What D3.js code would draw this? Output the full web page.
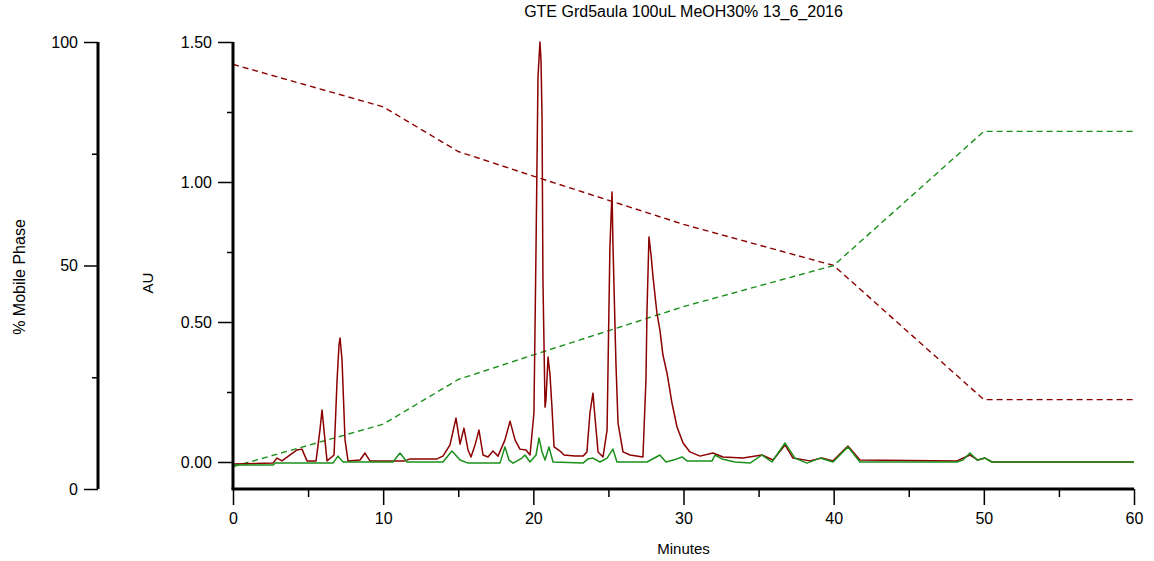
<!DOCTYPE html>
<html>
<head>
<meta charset="utf-8">
<script src="https://cdn.jsdelivr.net/npm/d3@7"></script>
<style>
body { margin: 0; background: #fff; }
svg text { font-family: "Liberation Sans", Arial, sans-serif; fill: #000; }
</style>
</head>
<body>
<svg id="chart" width="1154" height="561"></svg>
<script>
const chart_title = "GTE Grd5aula 100uL MeOH30% 13_6_2016";

// gradient program, % of each solvent
const gradient_time = [0, 10, 12.5, 15, 20, 30, 40, 50, 60];
const solvent_a = [95, 85.5, 80.5, 75.5, 70, 59.2, 50, 20, 20];
const solvent_b = [5, 14.5, 19.5, 24.5, 30, 40.8, 50, 80, 80];

// tick values
const minute_ticks = [0, 5, 10, 15, 20, 25, 30, 35, 40, 45, 50, 55, 60];
const minute_labels = [0, 10, 20, 30, 40, 50, 60];
const au_ticks = [0, 0.25, 0.5, 0.75, 1, 1.25, 1.5];
const au_labels = [0, 0.5, 1, 1.5];
const pct_ticks = [0, 25, 50, 75, 100];
const pct_labels = [0, 50, 100];

// detector traces [minutes, AU]
const trace_red = [
	[0, -0.007], [2.66, -0.004], [2.93, 0.014], [3.26, 0.004], [4.26, 0.043], [4.59, 0.046],
	[4.93, 0.004], [5.53, 0.004], [5.79, 0.114], [5.93, 0.186], [6.06, 0.114], [6.26, 0.004],
	[6.73, 0.025], [6.93, 0.293], [7.06, 0.418], [7.13, 0.443], [7.26, 0.364], [7.46, 0.079],
	[7.66, 0.004], [8.46, 0.007], [8.79, 0.032], [9.12, 0.004], [11.45, 0.004], [11.79, 0.011],
	[13.58, 0.011], [13.98, 0.021], [14.45, 0.061], [14.85, 0.157], [15.12, 0.064], [15.38, 0.121],
	[15.65, 0.043], [15.85, 0.018], [16.12, 0.061], [16.38, 0.114], [16.65, 0.025], [16.98, 0.018],
	[17.31, 0.039], [17.65, 0.021], [18.11, 0.079], [18.45, 0.146], [18.78, 0.079], [19.11, 0.046],
	[19.51, 0.043], [19.78, 0.025], [20.04, 0.175], [20.18, 0.768], [20.31, 1.375], [20.44, 1.5],
	[20.51, 1.436], [20.58, 1.232], [20.64, 0.65], [20.78, 0.196], [20.84, 0.221], [20.98, 0.375],
	[21.11, 0.311], [21.24, 0.196], [21.38, 0.054], [21.78, 0.039], [22.04, 0.025], [22.77, 0.021],
	[23.31, 0.021], [23.57, 0.036], [23.77, 0.175], [23.97, 0.246], [24.11, 0.157], [24.31, 0.036],
	[24.64, 0.018], [24.91, 0.114], [25.1, 0.768], [25.24, 0.964], [25.3, 0.782], [25.5, 0.354],
	[25.64, 0.139], [25.97, 0.036], [26.44, 0.025], [27.3, 0.018], [27.5, 0.293], [27.57, 0.543],
	[27.7, 0.804], [27.84, 0.739], [27.97, 0.661], [28.23, 0.532], [28.43, 0.471], [28.63, 0.382],
	[28.9, 0.318], [29.23, 0.211], [29.57, 0.125], [29.97, 0.068], [30.43, 0.036], [31.1, 0.021],
	[31.96, 0.032], [32.63, 0.018], [33.96, 0.014], [35.23, 0.025], [35.96, 0.007], [36.76, 0.061],
	[37.29, 0.014], [38.42, 0.004], [39.22, 0.014], [39.96, 0.004], [40.95, 0.057], [41.75, 0.007],
	[48.21, 0.004], [49.08, 0.025], [49.61, 0.007], [50.08, 0.014], [50.54, 0], [60, 0]
];

const trace_green = [
	[0, -0.011], [2.66, -0.011], [2.8, -0.004], [6.66, -0.004], [6.99, 0.021], [7.33, 0],
	[10.65, 0], [11.12, 0.032], [11.59, 0], [13.98, 0], [14.58, 0.039], [15.12, 0.007],
	[15.65, -0.004], [17.78, -0.004], [18.11, 0.054], [18.38, 0.007], [18.65, -0.004], [19.24, 0.014],
	[19.44, 0.025], [19.78, 0], [20.18, 0.025], [20.38, 0.086], [20.58, 0.036], [20.78, 0.007],
	[21.04, 0.054], [21.31, 0], [23.31, -0.004], [23.64, 0.011], [23.97, 0.014], [24.44, 0],
	[24.91, 0.014], [25.3, 0.046], [25.57, 0], [27.57, 0], [28.43, 0.025], [28.83, 0],
	[29.57, 0.011], [29.9, 0.018], [30.23, 0.004], [31.9, 0.004], [32.1, 0.025], [32.56, 0.011],
	[33.43, 0], [34.43, -0.004], [35.23, 0.025], [35.89, 0], [36.76, 0.068], [37.42, 0.014],
	[38.22, -0.004], [39.09, 0.014], [39.96, 0], [40.42, 0.025], [40.95, 0.054], [41.75, 0],
	[48.21, 0], [48.61, 0.007], [49.08, 0.032], [49.54, 0.007], [50.08, 0.014], [50.54, 0], [60, 0]
];

const red = "#8b0000";
const green = "#1a901a";

function drawChart(){
	const svg = d3.select("#chart");

	const x = d3.scaleLinear().domain([0, 60]).range([233, 1134]);
	const y_au = d3.scaleLinear().domain([0, 1.5]).range([462, 42]);
	const y_pct = d3.scaleLinear().domain([0, 100]).range([489, 42]);
	const floor_y = y_pct(0);

	// gradient lines
	let grad_line = d3.line()
		.x(function(d, i) { return x(gradient_time[i]); })
		.y(function(d) { return y_pct(d); });

	svg.append("path")
		.attr("d", grad_line(solvent_a))
		.attr("fill", "none")
		.attr("stroke", red)
		.attr("stroke-width", 1.4)
		.attr("stroke-dasharray", "6,4");

	svg.append("path")
		.attr("d", grad_line(solvent_b))
		.attr("fill", "none")
		.attr("stroke", green)
		.attr("stroke-width", 1.4)
		.attr("stroke-dasharray", "6,4");

	// traces
	let trace_line = d3.line()
		.x(function(d) { return x(d[0]); })
		.y(function(d) { return y_au(d[1]); });

	svg.append("path")
		.attr("d", trace_line(trace_red))
		.attr("fill", "none")
		.attr("stroke", red)
		.attr("stroke-width", 1.5)
		.attr("stroke-linejoin", "round");

	svg.append("path")
		.attr("d", trace_line(trace_green))
		.attr("fill", "none")
		.attr("stroke", green)
		.attr("stroke-width", 1.5)
		.attr("stroke-linejoin", "round");

	// % mobile phase axis
	let pct_axis = svg.append("g")
		.attr("transform", "translate(98,0)")
		.call(d3.axisLeft(y_pct)
			.tickValues(pct_ticks)
			.tickSize(14)
			.tickPadding(6)
			.tickFormat(function(d) { return pct_labels.includes(d) ? d : ""; }));
	styleAxis(pct_axis, pct_labels, "x2", -6);

	// AU axis
	let au_axis = svg.append("g")
		.attr("transform", "translate(233,0)")
		.call(d3.axisLeft(y_au)
			.tickValues(au_ticks)
			.tickSize(15)
			.tickPadding(6)
			.tickFormat(function(d) { return au_labels.includes(d) ? d3.format(".2f")(d) : ""; }));
	styleAxis(au_axis, au_labels, "x2", -6);

	// minutes axis
	let x_axis = svg.append("g")
		.attr("transform", "translate(0," + floor_y + ")")
		.call(d3.axisBottom(x)
			.tickValues(minute_ticks)
			.tickSize(16)
			.tickPadding(8)
			.tickFormat(function(d) { return minute_labels.includes(d) ? d : ""; }));
	styleAxis(x_axis, minute_labels, "y2", 8);

	// heavy axis lines
	svg.append("line")
		.attr("x1", 98).attr("x2", 98)
		.attr("y1", y_pct(100)).attr("y2", floor_y)
		.attr("stroke", "#000").attr("stroke-width", 3);
	svg.append("line")
		.attr("x1", x(0)).attr("x2", x(0))
		.attr("y1", y_au(1.5)).attr("y2", floor_y)
		.attr("stroke", "#000").attr("stroke-width", 3);
	svg.append("line")
		.attr("x1", x(0) - 1.5).attr("x2", x(60))
		.attr("y1", floor_y).attr("y2", floor_y)
		.attr("stroke", "#000").attr("stroke-width", 3);

	// titles
	svg.append("text")
		.attr("x", (x(0) + x(60)) / 2)
		.attr("y", 17)
		.attr("text-anchor", "middle")
		.attr("font-size", 16)
		.text(chart_title);

	svg.append("text")
		.attr("x", (x(0) + x(60)) / 2)
		.attr("y", 554)
		.attr("text-anchor", "middle")
		.attr("font-size", 15)
		.text("Minutes");

	svg.append("text")
		.attr("transform", "translate(25,277) rotate(-90)")
		.attr("text-anchor", "middle")
		.attr("font-size", 16)
		.text("% Mobile Phase");

	svg.append("text")
		.attr("transform", "translate(153,283) rotate(-90)")
		.attr("text-anchor", "middle")
		.attr("font-size", 15)
		.text("AU");
}

function styleAxis(g, labelled, attr, minor_len){
	g.select(".domain").remove();
	g.attr("font-family", null).attr("font-size", null);
	g.selectAll(".tick line")
		.attr("stroke", "#000")
		.attr("stroke-width", 1.5);
	g.selectAll(".tick text")
		.attr("font-size", 16);
	g.selectAll(".tick")
		.filter(function(d) { return !labelled.includes(d); })
		.select("line")
		.attr(attr, minor_len);
}

drawChart();
</script>
</body>
</html>
